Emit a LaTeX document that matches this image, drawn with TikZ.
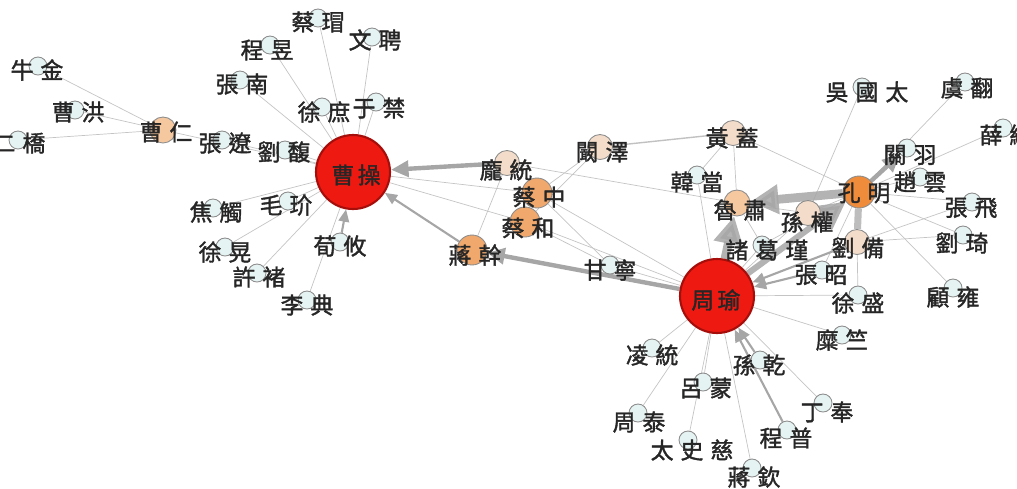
\documentclass[tikz,border=0pt]{standalone}
\usepackage{fontspec}
\newfontfamily\cjk[AutoFakeBold=1.6]{Noto Sans CJK TC}
\usetikzlibrary{arrows.meta}
\pgfdeclarelayer{background}
\pgfsetlayers{background,main}
\definecolor{pale}{HTML}{E6F3F3}
\definecolor{peachlt}{HTML}{F3DDCA}
\definecolor{peach}{HTML}{F5C8A0}
\definecolor{amber}{HTML}{F1A86C}
\definecolor{orng}{HTML}{EE8C3C}
\definecolor{hub}{HTML}{EE1A12}
\definecolor{hubrim}{HTML}{A50E0A}
\definecolor{rim}{HTML}{8C8C8C}
\definecolor{thin}{HTML}{C4C4C4}
\definecolor{mid}{HTML}{A6A6A6}
\newcommand\gp{\hspace{4pt}}
\tikzset{
  person/.style={circle,draw=rim,line width=0.5pt,inner sep=0pt,minimum size=0.36cm,fill=pale},
  pk/.style={person,fill=peachlt,minimum size=0.5cm},
  pp/.style={person,fill=peach,minimum size=0.52cm},
  pa/.style={person,fill=amber,minimum size=0.6cm},
  po/.style={person,fill=orng,minimum size=0.64cm},
  pr/.style={circle,draw=hubrim,line width=1.2pt,fill=hub,inner sep=0pt,minimum size=1.48cm},
  nm/.style={inner sep=0pt,text=black!85,font=\cjk\bfseries\fontsize{13}{14}\selectfont},
  tie/.style={draw=thin,line width=0.4pt},
  tiem/.style={draw=mid!70,line width=0.8pt},
  flow/.style={draw=mid,line width=1.2pt,-{Triangle[length=7pt,width=6pt]}},
  flowb/.style={draw=mid,line width=2.5pt,-{Triangle[length=10pt,width=9pt]}},
  flowh/.style={draw=gray!70,opacity=0.85,line width=5pt,-{Triangle[length=16pt,width=16pt]}},
}
\begin{document}
\begin{tikzpicture}[x=0.02cm,y=-0.02cm]
\useasboundingbox (0,0) rectangle (1017,488);
\clip (0,0) rectangle (1017,488);

% ---- people (circles)
\node[person] (niujin) at (38,66) {};
\node[person] (caohong) at (75,110) {};
\node[person] (erqiao) at (18,140) {};
\node[pp] (caoren) at (163,130) {};
\node[person] (zhangliao) at (222,140) {};
\node[person] (liufu) at (285,150) {};
\node[person] (zhangnan) at (240,80) {};
\node[person] (chengyu) at (270,45) {};
\node[person] (caimao) at (318,18) {};
\node[person] (wenpin) at (372,37) {};
\node[person] (xushu) at (322,107) {};
\node[person] (yujin) at (376,102) {};
\node[pr] (caocao) at (353,172) {};
\node[person] (jiaochu) at (213,208) {};
\node[person] (maojie) at (288,201) {};
\node[person] (xuhuang) at (225,247) {};
\node[person] (xuchu) at (257,273) {};
\node[person] (xunyou) at (340,242) {};
\node[person] (lidian) at (307,300) {};

\node[pk] (pangtong) at (507,163) {};
\node[pa] (caizhong) at (537,193) {};
\node[pa] (caihe) at (525,222) {};
\node[pa] (jianggan) at (472,250) {};
\node[pk] (kanze) at (600,147) {};
\node[person] (ganning) at (610,265) {};
\node[pk] (huanggai) at (733,133) {};
\node[person] (handang) at (697,175) {};
\node[pp] (lusu) at (737,203) {};
\node[pk] (sunquan) at (808,213) {};
\node[po] (kongming) at (859,192) {};
\node[pk] (liubei) at (857,242) {};
\node[person] (zhugejin) at (762,245) {};
\node[person] (zhangzhao) at (822,270) {};
\node[person] (xusheng) at (858,295) {};
\node[person] (mizhu) at (842,335) {};
\node[person] (liuqi) at (963,235) {};
\node[person] (guyong) at (953,288) {};
\node[person] (zhangfei) at (972,202) {};
\node[person] (zhaoyun) at (920,177) {};
\node[person] (guanyu) at (907,148) {};
\node[person] (xuezong) at (1003,128) {};
\node[person] (wuguotai) at (862,87) {};
\node[person] (yufan) at (965,82) {};

\node[pr] (zhouyu) at (717,296) {};
\node[person] (lingtong) at (652,348) {};
\node[person] (lvmeng) at (703,382) {};
\node[person] (sunqian) at (760,360) {};
\node[person] (zhoutai) at (638,413) {};
\node[person] (taishici) at (688,440) {};
\node[person] (jiangqin) at (752,468) {};
\node[person] (chengpu) at (787,430) {};
\node[person] (dingfeng) at (823,403) {};

% ---- ties, drawn beneath the circles
\begin{pgfonlayer}{background}
\foreach \a/\b in {niujin/caoren,caohong/caoren,erqiao/caoren,caoren/caocao,
  zhangliao/caocao,liufu/caocao,zhangnan/caocao,chengyu/caocao,caimao/caocao,
  wenpin/caocao,xushu/caocao,yujin/caocao,jiaochu/caocao,maojie/caocao,
  xuhuang/caocao,xuchu/caocao,lidian/caocao,caocao/caizhong,caocao/caihe,
  pangtong/jianggan,pangtong/lusu,kanze/caizhong,kanze/caihe,
  caizhong/ganning,caihe/ganning,caizhong/zhouyu,caihe/zhouyu,ganning/zhouyu,
  handang/huanggai,handang/zhouyu,huanggai/lusu,huanggai/kongming,
  wuguotai/sunquan,yufan/kongming,xuezong/kongming,zhaoyun/kongming,
  zhangfei/kongming,zhangfei/liubei,liuqi/liubei,liuqi/kongming,guyong/kongming,
  sunquan/zhouyu,sunquan/kongming,sunquan/lusu,zhugejin/zhouyu,zhugejin/kongming,
  zhangzhao/kongming,xusheng/zhouyu,xusheng/liubei,mizhu/zhouyu,lusu/zhugejin,
  lingtong/zhouyu,lvmeng/zhouyu,zhoutai/zhouyu,taishici/zhouyu,jiangqin/zhouyu,
  dingfeng/zhouyu}
  \draw[tie] (\a) -- (\b);
\draw[tiem] (kanze) -- (huanggai);
\draw[flow] (xunyou) -- (caocao);
\draw[flow] (jianggan) -- (caocao);
\draw[flow] (zhangzhao) -- (zhouyu);
\draw[flow] (liubei) -- (zhouyu);
\draw[flow] (sunqian) -- (zhouyu);
\draw[flow] (chengpu) -- (zhouyu);
\draw[flowb] (pangtong) -- (caocao);
\draw[flowb] (zhouyu) -- (jianggan);
\draw[flowb] (kongming) -- (guanyu);
\draw[draw=gray!60,opacity=0.85,line width=4pt] (kongming) -- (liubei);
\draw[flowh] (kongming) -- (lusu);
\draw[flowh] (zhouyu) -- (lusu);
\draw[flowh,line width=3.5pt] (zhouyu) -- (kongming);
\end{pgfonlayer}

% ---- names
\node[nm] at (37,70) {牛\gp 金};
\node[nm] at (78,112) {曹\gp 洪};
\node[nm] at (19,143) {二\gp 橋};
\node[nm] at (166,132) {曹\gp 仁};
\node[nm] at (225,143) {張\gp 遼};
\node[nm] at (284,152) {劉\gp 馥};
\node[nm] at (242,84) {張\gp 南};
\node[nm] at (267,50) {程\gp 昱};
\node[nm] at (318,22) {蔡\gp 瑁};
\node[nm] at (375,40) {文\gp 聘};
\node[nm] at (324,112) {徐\gp 庶};
\node[nm] at (379,108) {于\gp 禁};
\node[nm] at (356,175) {曹\hspace{2pt}操};
\node[nm] at (216,212) {焦\gp 觸};
\node[nm] at (286,205) {毛\gp 玠};
\node[nm] at (225,252) {徐\gp 晃};
\node[nm] at (259,277) {許\gp 褚};
\node[nm] at (340,246) {荀\gp 攸};
\node[nm] at (307,305) {李\gp 典};

\node[nm] at (506,170) {龐\gp 統};
\node[nm] at (539,197) {蔡\gp 中};
\node[nm] at (528,228) {蔡\gp 和};
\node[nm] at (475,255) {蔣\gp 幹};
\node[nm] at (602,152) {闞\gp 澤};
\node[nm] at (610,270) {甘\gp 寧};
\node[nm] at (732,138) {黃\gp 蓋};
\node[nm] at (697,182) {韓\gp 當};
\node[nm] at (740,210) {魯\gp 肅};
\node[nm] at (807,222) {孫\gp 權};
\node[nm] at (864,193) {孔\gp 明};
\node[nm] at (858,248) {劉\gp 備};
\node[nm] at (767,250) {諸\gp 葛\gp 瑾};
\node[nm] at (821,275) {張\gp 昭};
\node[nm] at (858,303) {徐\gp 盛};
\node[nm] at (842,340) {糜\gp 竺};
\node[nm] at (962,243) {劉\gp 琦};
\node[nm] at (953,297) {顧\gp 雍};
\node[nm] at (971,208) {張\gp 飛};
\node[nm] at (920,182) {趙\gp 雲};
\node[nm] at (910,155) {關\gp 羽};
\node[nm] at (1006,135) {薛\gp 綜};
\node[nm] at (867,92) {吳\gp 國\gp 太};
\node[nm] at (967,88) {虞\gp 翻};

\node[nm] at (716,300) {周\hspace{2pt}瑜};
\node[nm] at (652,355) {凌\gp 統};
\node[nm] at (706,388) {呂\gp 蒙};
\node[nm] at (759,365) {孫\gp 乾};
\node[nm] at (639,422) {周\gp 泰};
\node[nm] at (692,450) {太\gp 史\gp 慈};
\node[nm] at (754,477) {蔣\gp 欽};
\node[nm] at (786,438) {程\gp 普};
\node[nm] at (827,412) {丁\gp 奉};
\end{tikzpicture}
\end{document}
